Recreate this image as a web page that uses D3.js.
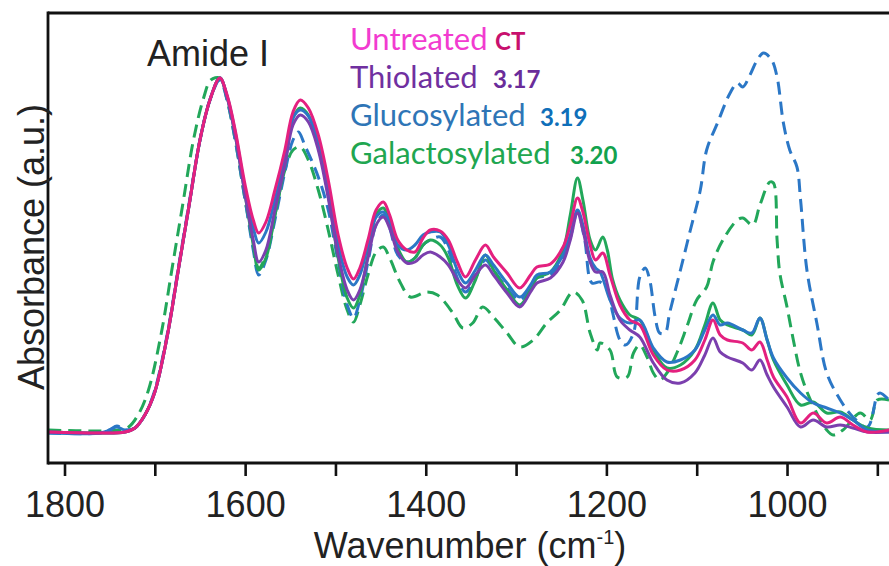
<!DOCTYPE html>
<html><head><meta charset="utf-8">
<script src="https://cdn.jsdelivr.net/npm/d3@7"></script>
<style>html,body{margin:0;padding:0;background:#fff;}svg{display:block;}</style>
</head><body>
<svg id="chart" width="889" height="566"></svg>
<script>
// ---------- data: [wavenumber (cm-1), absorbance (a.u.)] ----------
const untreated = [[1818,0.00],[1761,-0.01],[1733,0.00],[1722,0.04],[1711,0.17],[1700,0.40],[1686,0.97],[1674,1.62],[1662,2.27],[1650,2.92],[1639,3.32],[1628,3.54],[1620,3.37],[1611,3.02],[1600,2.47],[1591,2.12],[1585,1.99],[1577,2.10],[1567,2.42],[1556,2.82],[1547,3.20],[1539,3.32],[1530,3.24],[1519,2.97],[1508,2.52],[1497,1.97],[1487,1.64],[1480,1.53],[1473,1.64],[1464,1.92],[1455,2.22],[1447,2.30],[1440,2.17],[1431,1.92],[1421,1.82],[1412,1.80],[1403,1.94],[1395,2.02],[1384,2.01],[1375,1.92],[1365,1.70],[1356,1.55],[1345,1.72],[1334,1.87],[1325,1.75],[1310,1.59],[1296,1.44],[1284,1.57],[1277,1.65],[1262,1.68],[1248,1.85],[1240,2.07],[1232,2.34],[1226,2.20],[1218,1.87],[1212,1.72],[1204,1.79],[1196,1.57],[1185,1.27],[1174,1.12],[1163,1.07],[1148,0.77],[1133,0.62],[1118,0.62],[1102,0.72],[1091,0.92],[1082,1.12],[1074,0.97],[1066,0.92],[1049,0.89],[1039,0.82],[1030,0.90],[1022,0.72],[1015,0.55],[1000,0.35],[985,0.09],[971,0.19],[956,0.09],[941,0.15],[927,0.07],[911,0.00],[887,0.02]];

const thiolated = [[1818,0.00],[1761,-0.01],[1733,0.00],[1722,0.04],[1711,0.17],[1700,0.40],[1686,0.97],[1674,1.62],[1662,2.27],[1650,2.92],[1639,3.32],[1628,3.54],[1620,3.35],[1611,2.97],[1600,2.37],[1591,1.92],[1585,1.70],[1577,1.82],[1567,2.22],[1556,2.67],[1547,3.07],[1539,3.17],[1530,3.10],[1519,2.82],[1508,2.34],[1497,1.77],[1487,1.42],[1480,1.32],[1473,1.42],[1464,1.74],[1455,2.07],[1447,2.15],[1440,2.04],[1431,1.80],[1421,1.69],[1412,1.70],[1403,1.77],[1395,1.80],[1384,1.75],[1375,1.67],[1365,1.52],[1356,1.44],[1345,1.57],[1334,1.67],[1325,1.57],[1310,1.39],[1296,1.25],[1284,1.40],[1277,1.49],[1262,1.54],[1248,1.70],[1240,1.92],[1232,2.19],[1226,2.02],[1218,1.70],[1212,1.60],[1204,1.60],[1196,1.37],[1185,1.12],[1174,1.02],[1163,0.95],[1148,0.69],[1133,0.52],[1118,0.49],[1102,0.59],[1091,0.77],[1082,0.94],[1074,0.80],[1066,0.75],[1049,0.69],[1039,0.62],[1030,0.72],[1022,0.57],[1015,0.45],[1000,0.25],[985,0.05],[971,0.12],[956,0.05],[941,0.07],[927,0.04],[911,0.00],[887,0.00]];

const glucosylated = [[1818,-0.01],[1761,-0.01],[1750,0.02],[1742,0.05],[1733,0.02],[1722,0.04],[1711,0.17],[1700,0.40],[1686,0.97],[1674,1.62],[1662,2.27],[1650,2.92],[1639,3.32],[1628,3.54],[1620,3.36],[1611,3.00],[1600,2.42],[1591,2.04],[1585,1.89],[1577,2.00],[1567,2.32],[1556,2.74],[1547,3.14],[1539,3.22],[1530,3.16],[1519,2.89],[1508,2.42],[1497,1.87],[1487,1.55],[1480,1.47],[1473,1.57],[1464,1.87],[1455,2.15],[1447,2.20],[1440,2.10],[1431,1.87],[1421,1.82],[1412,1.87],[1403,1.97],[1395,2.00],[1384,2.00],[1375,1.87],[1365,1.62],[1356,1.49],[1345,1.62],[1334,1.77],[1325,1.67],[1310,1.49],[1296,1.35],[1284,1.47],[1277,1.57],[1262,1.60],[1248,1.77],[1240,1.97],[1232,2.22],[1226,2.07],[1218,1.74],[1212,1.64],[1207,1.60],[1196,1.32],[1185,1.14],[1174,1.09],[1163,1.12],[1148,0.84],[1133,0.70],[1118,0.72],[1102,0.82],[1091,1.02],[1082,1.17],[1074,1.07],[1066,1.09],[1049,1.02],[1039,0.99],[1030,1.14],[1022,0.92],[1015,0.74],[1000,0.54],[985,0.39],[971,0.29],[956,0.24],[941,0.19],[927,0.12],[911,0.02],[887,0.00]];

const galactosylated = [[1818,0.00],[1761,-0.01],[1733,0.00],[1722,0.04],[1711,0.17],[1700,0.40],[1686,0.97],[1674,1.62],[1662,2.27],[1650,2.92],[1639,3.32],[1628,3.54],[1620,3.35],[1611,2.97],[1600,2.37],[1591,1.87],[1585,1.62],[1577,1.74],[1567,2.17],[1556,2.67],[1547,3.14],[1539,3.24],[1530,3.17],[1519,2.87],[1508,2.37],[1497,1.74],[1487,1.34],[1480,1.24],[1473,1.37],[1464,1.77],[1455,2.17],[1447,2.24],[1440,2.10],[1431,1.84],[1421,1.70],[1412,1.74],[1403,1.87],[1395,1.92],[1384,1.87],[1375,1.74],[1365,1.47],[1356,1.34],[1345,1.52],[1334,1.77],[1325,1.62],[1310,1.42],[1296,1.27],[1284,1.42],[1277,1.54],[1262,1.60],[1248,1.82],[1240,2.17],[1232,2.54],[1226,2.32],[1218,1.92],[1212,1.82],[1204,1.95],[1199,1.82],[1193,1.52],[1185,1.32],[1174,1.17],[1163,1.12],[1148,0.82],[1133,0.64],[1118,0.67],[1102,0.82],[1091,1.07],[1082,1.29],[1074,1.12],[1066,1.07],[1049,1.02],[1039,0.97],[1030,1.14],[1022,0.92],[1015,0.72],[1000,0.47],[985,0.27],[971,0.30],[956,0.19],[941,0.20],[927,0.12],[911,0.04],[887,0.02]];

const glucosylatedDashed = [[1818,-0.01],[1761,-0.01],[1750,0.02],[1742,0.06],[1733,0.02],[1722,0.04],[1711,0.17],[1700,0.42],[1686,0.99],[1674,1.64],[1662,2.29],[1650,2.92],[1639,3.32],[1628,3.52],[1620,3.32],[1611,2.92],[1600,2.32],[1591,1.82],[1585,1.57],[1577,1.72],[1567,2.12],[1556,2.60],[1547,2.92],[1541,3.00],[1534,2.87],[1519,2.55],[1508,2.22],[1497,1.70],[1487,1.27],[1480,1.14],[1473,1.32],[1464,1.70],[1455,2.07],[1447,2.17],[1440,2.04],[1431,1.77],[1421,1.70],[1412,1.74],[1403,1.87],[1395,1.92],[1384,1.95],[1375,1.82],[1365,1.54],[1356,1.40],[1345,1.54],[1334,1.72],[1325,1.62],[1310,1.44],[1296,1.32],[1284,1.44],[1277,1.54],[1262,1.57],[1248,1.74],[1240,1.94],[1232,2.20],[1224,1.92],[1216,1.49],[1207,1.50],[1199,1.42],[1193,1.19],[1185,0.92],[1179,0.87],[1170,0.99],[1163,1.55],[1157,1.64],[1152,1.52],[1146,1.15],[1141,0.99],[1135,0.99],[1130,1.19],[1118,1.62],[1107,2.02],[1096,2.42],[1089,2.82],[1077,3.09],[1063,3.39],[1055,3.49],[1049,3.45],[1041,3.57],[1033,3.72],[1026,3.79],[1017,3.72],[1011,3.55],[1004,3.09],[997,2.82],[989,2.65],[985,2.32],[978,1.62],[967,1.09],[956,0.59],[941,0.32],[927,0.15],[911,0.05],[900,0.37],[897,0.39],[887,0.32]];

const galactosylatedDashed = [[1818,0.02],[1761,0.01],[1740,0.02],[1729,0.05],[1718,0.18],[1707,0.42],[1693,0.98],[1681,1.63],[1669,2.28],[1657,2.93],[1646,3.34],[1638,3.52],[1628,3.54],[1620,3.32],[1611,2.92],[1600,2.32],[1591,1.87],[1585,1.64],[1577,1.77],[1567,2.17],[1556,2.62],[1547,2.82],[1539,2.85],[1530,2.72],[1519,2.42],[1508,2.02],[1497,1.57],[1487,1.22],[1480,1.10],[1473,1.27],[1464,1.57],[1455,1.80],[1447,1.85],[1440,1.74],[1428,1.49],[1417,1.35],[1399,1.40],[1387,1.37],[1370,1.19],[1359,1.04],[1348,1.09],[1337,1.25],[1325,1.15],[1310,0.99],[1296,0.85],[1281,0.92],[1266,1.09],[1251,1.22],[1237,1.40],[1227,1.32],[1218,0.99],[1210,0.82],[1207,0.89],[1196,0.82],[1188,0.55],[1177,0.55],[1170,0.79],[1163,0.87],[1155,0.75],[1148,0.59],[1141,0.52],[1133,0.59],[1122,0.79],[1111,1.05],[1100,1.32],[1089,1.45],[1082,1.70],[1071,1.92],[1055,2.12],[1049,2.14],[1038,2.07],[1030,2.27],[1019,2.50],[1015,2.49],[1011,1.92],[1008,1.59],[1000,1.25],[993,0.92],[985,0.59],[974,0.32],[956,0.02],[949,-0.03],[938,0.02],[919,0.19],[908,0.12],[900,0.32],[887,0.32]];

const xTickValues = [1800,1700,1600,1500,1400,1300,1200,1100,1000,900];
const xTickLabels = ["1800","","1600","","1400","","1200","","1000",""];

const legendLabels = ["Untreated","Thiolated","Glucosylated","Galactosylated"];
const legendCodes  = ["CT","3.17","3.19","3.20"];

// ---------- styles ----------
const lineColors = {un:"#e4207f", th:"#7b3fae", gl:"#2b77c6", ga:"#22a75a"};
const legendLabelColors = ["#f23bd0","#7030a0","#2e75b6","#20a650"];
const legendCodeColors  = ["#c8106e","#6a2c9a","#0f6fb9","#12a24e"];
const legendCodeX = [495,493,540,570];

const svg = d3.select("#chart");
const W = 889, H = 566;

const x = d3.scaleLinear().domain([1818.5, 880]).range([47.8, 895.4]);
const y = d3.scaleLinear().domain([-0.31, 4.19]).range([463, 13]);

const plotLeft = 48, plotTop = 13, plotBottom = 463;

svg.append("clipPath").attr("id","clip").append("rect")
  .attr("x", plotLeft+1).attr("y", plotTop+1).attr("width", W).attr("height", plotBottom-plotTop-2);

const line = d3.line().x(d=>x(d[0])).y(d=>y(d[1])).curve(d3.curveCatmullRom.alpha(0.5));

const g = svg.append("g").attr("clip-path","url(#clip)");
const series = [
  {data: galactosylatedDashed, color: lineColors.ga, dash: "13,7"},
  {data: glucosylatedDashed, color: lineColors.gl, dash: "13,7"},
  {data: galactosylated, color: lineColors.ga},
  {data: glucosylated, color: lineColors.gl},
  {data: thiolated, color: lineColors.th},
  {data: untreated, color: lineColors.un}
];
series.forEach(s => {
  g.append("path").datum(s.data).attr("d", line)
    .attr("fill","none").attr("stroke", s.color).attr("stroke-width", 3)
    .attr("stroke-linejoin","round").attr("stroke-linecap", s.dash ? "butt" : "round")
    .attr("stroke-dasharray", s.dash || null);
});

// ---------- axes ----------
const xAxis = d3.axisBottom(x).tickValues(xTickValues)
  .tickFormat((d,i)=>xTickLabels[i]).tickSize(13).tickSizeOuter(0).tickPadding(15);
const ax = svg.append("g").attr("transform",`translate(0,${plotBottom})`).call(xAxis);
ax.select(".domain").remove();
ax.selectAll(".tick line").attr("stroke","#111").attr("stroke-width",2.6);
ax.selectAll(".tick text").attr("fill","#222").style("font-family","'Liberation Sans', Arial, sans-serif").style("font-size","36px");

svg.append("line").attr("x1",plotLeft).attr("x2",W).attr("y1",plotBottom).attr("y2",plotBottom)
  .attr("stroke","#111").attr("stroke-width",2.8);
svg.append("line").attr("x1",plotLeft).attr("x2",W).attr("y1",plotTop).attr("y2",plotTop)
  .attr("stroke","#111").attr("stroke-width",2.8);
svg.append("line").attr("x1",plotLeft).attr("x2",plotLeft).attr("y1",plotTop-1.4).attr("y2",plotBottom+1.4)
  .attr("stroke","#111").attr("stroke-width",2.8);

// axis titles
const xt = svg.append("text").attr("x",470).attr("y",558).attr("text-anchor","middle")
  .style("font-family","'Liberation Sans', Arial, sans-serif").style("font-size","36px").attr("fill","#222");
xt.append("tspan").text("Wavenumber (cm");
xt.append("tspan").text("-1").attr("dy",-14).style("font-size","20px");
xt.append("tspan").text(")").attr("dy",14);

svg.append("text").attr("transform","translate(44,247) rotate(-90)").attr("text-anchor","middle")
  .style("font-family","'Liberation Sans', Arial, sans-serif").style("font-size","36px").attr("fill","#222")
  .text("Absorbance (a.u.)");

svg.append("text").attr("x",147).attr("y",66)
  .style("font-family","'Liberation Sans', Arial, sans-serif").style("font-size","36px").attr("fill","#222")
  .text("Amide I");

// legend
legendLabels.forEach((lab,i)=>{
  const by = 50 + i*38;
  svg.append("text").attr("x",350).attr("y",by).text(lab)
    .style("font-family","Lato, 'Open Sans', sans-serif").style("font-size","31px").attr("fill",legendLabelColors[i]);
  svg.append("text").attr("x",legendCodeX[i]).attr("y",by).text(legendCodes[i])
    .style("font-family","Lato, 'Open Sans', sans-serif").style("font-weight","bold").style("font-size","24px").attr("fill",legendCodeColors[i]);
});
</script>
</body></html>
